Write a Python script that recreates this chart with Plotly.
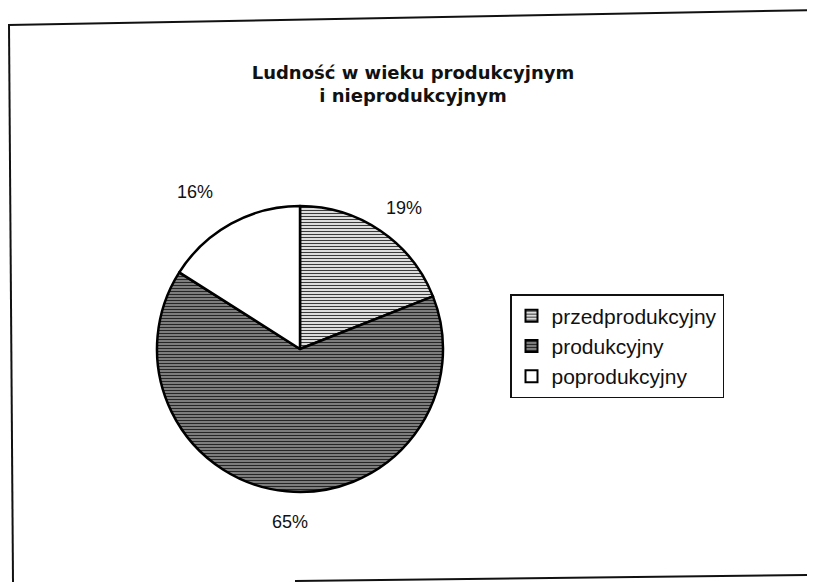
import math
import plotly.graph_objects as go

# Page has an 8px body margin; figure sized so it fits the 815x582 window.
OFF = 8
W, H = 815 - OFF, 582 - OFF

title_text = "Ludność w wieku produkcyjnym<br>i nieprodukcyjnym"
labels = ["przedprodukcyjny", "produkcyjny", "poprodukcyjny"]
values = [19, 65, 16]
bg_colors = ["#dcdcdc", "#9a9a9a", "#ffffff"]
fg_colors = ["#3a3a3a", "#262626", "#ffffff"]
pattern_shapes = ["-", "-", ""]
pattern_solidity = [0.35, 0.5, 0.3]


def px(sx):
    return (sx - OFF) / W


def py(sy):
    return 1 - (sy - OFF) / H


# pie geometry (screen px)
CX, CY, R = 300, 349, 143
LABEL_R = [176, 174, 188]
LABEL_XSHIFT = [5, 6, -14]
LABEL_YSHIFT = [-5, 0, -8]

fig = go.Figure(
    go.Pie(
        labels=labels,
        values=values,
        sort=False,
        direction="clockwise",
        rotation=0,
        textinfo="none",
        marker=dict(
            colors=bg_colors,
            line=dict(color="#000", width=2.5),
            pattern=dict(
                shape=pattern_shapes,
                fgcolor=fg_colors,
                bgcolor=bg_colors,
                size=3,
                solidity=pattern_solidity,
            ),
        ),
        domain=dict(x=[px(CX - R), px(CX + R)], y=[py(CY + R), py(CY - R)]),
        hoverinfo="label+percent",
    )
)

# percentage labels placed outside the slices, at each slice's mid-angle
total = sum(values)
cum = 0
annotations = []
for v, lr, xs, ys in zip(values, LABEL_R, LABEL_XSHIFT, LABEL_YSHIFT):
    mid = 2 * math.pi * (cum + v / 2) / total
    cum += v
    sx = CX + lr * math.sin(mid)
    sy = CY - lr * math.cos(mid)
    annotations.append(
        dict(
            text=f"{round(100 * v / total)}%",
            x=px(sx), y=py(sy), xref="paper", yref="paper",
            xanchor="center", yanchor="middle", showarrow=False,
            xshift=xs, yshift=ys,
            font=dict(family="Liberation Sans, Arial, sans-serif", size=18, color="#111"),
        )
    )

shapes = [
    dict(type="line", xref="paper", yref="paper", x0=px(8), y0=py(25), x1=px(815), y1=py(10),
         line=dict(color="#111", width=2)),
    dict(type="line", xref="paper", yref="paper", x0=px(9), y0=py(25), x1=px(13), y1=py(582),
         line=dict(color="#111", width=2)),
    dict(type="line", xref="paper", yref="paper", x0=px(295), y0=py(581), x1=px(815), y1=py(575),
         line=dict(color="#111", width=2)),
]

fig.update_layout(
    width=W,
    height=H,
    margin=dict(l=0, r=0, t=0, b=0),
    paper_bgcolor="#ffffff",
    plot_bgcolor="#ffffff",
    title=dict(
        text=title_text,
        x=px(413),
        xanchor="center",
        y=py(79),
        yanchor="top",
        font=dict(family="DejaVu Sans, sans-serif", size=18, color="#111", weight="bold"),
    ),
    showlegend=True,
    legend=dict(
        x=px(510),
        y=py(294),
        xanchor="left",
        yanchor="top",
        bordercolor="#111",
        borderwidth=1.5,
        bgcolor="#ffffff",
        font=dict(family="Liberation Sans, Arial, sans-serif", size=21, color="#111"),
        itemsizing="constant",
    ),
    annotations=annotations,
    shapes=shapes,
)

fig.write_html("out.html")
